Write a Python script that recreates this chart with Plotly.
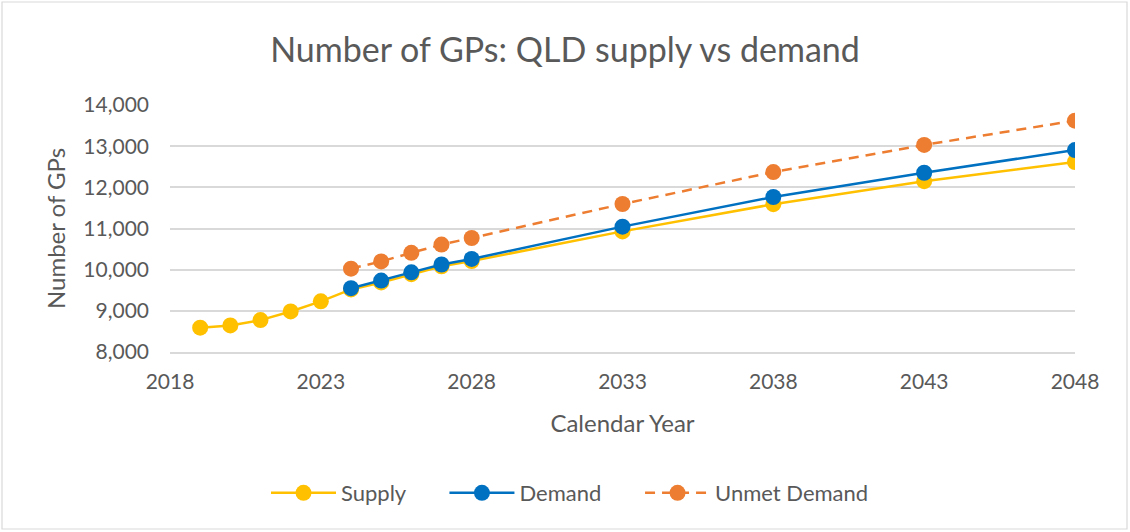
import plotly.graph_objects as go

supply_years = [2019, 2020, 2021, 2022, 2023, 2024, 2025, 2026, 2027, 2028, 2033, 2038, 2043, 2048]
supply = [8590, 8645, 8775, 8985, 9230, 9520, 9690, 9890, 10080, 10210, 10930, 11590, 12150, 12615]

demand_years = [2024, 2025, 2026, 2027, 2028, 2033, 2038, 2043, 2048]
demand = [9550, 9735, 9935, 10125, 10260, 11045, 11765, 12355, 12905]

unmet_years = [2024, 2025, 2026, 2027, 2028, 2033, 2038, 2043, 2048]
unmet = [10025, 10200, 10410, 10610, 10770, 11595, 12370, 13030, 13620]

x_ticks = [2018, 2023, 2028, 2033, 2038, 2043, 2048]
y_ticks = [8000, 9000, 10000, 11000, 12000, 13000, 14000]

FONT = "Lato"
TXT = "#595959"
PAD = "\u00a0" * 6

fig = go.Figure()
fig.add_trace(go.Scatter(x=supply_years, y=supply, name="Supply" + PAD, mode="lines+markers",
                         line=dict(color="#FFC000", width=2.5),
                         marker=dict(color="#FFC000", size=16)))
fig.add_trace(go.Scatter(x=demand_years, y=demand, name="Demand" + PAD, mode="lines+markers",
                         line=dict(color="#0070C0", width=2.5),
                         marker=dict(color="#0070C0", size=16)))
fig.add_trace(go.Scatter(x=unmet_years, y=unmet, name="Unmet Demand", mode="lines+markers",
                         line=dict(color="#ED7D31", width=2.5, dash="10px,7px"),
                         marker=dict(color="#ED7D31", size=16)))

L, R, T, B = 170, 55, 105, 180
W, H = 1130, 532
pw, ph = W - L - R, H - T - B

fig.update_layout(
    width=W, height=H,
    margin=dict(l=L, r=R, t=T, b=B),
    paper_bgcolor="white", plot_bgcolor="white",
    font=dict(family=FONT, color=TXT, size=21),
    title=dict(text="Number of GPs: QLD supply vs demand", x=0.5, xanchor="center",
               y=1 - 50 / H, yanchor="middle", font=dict(size=34, color=TXT, family=FONT)),
    xaxis=dict(range=[2018, 2048], tickvals=x_ticks, ticktext=[str(v) for v in x_ticks],
               showgrid=False, zeroline=False, showline=True, linecolor="#D9D9D9", linewidth=1.5,
               ticks="", tickfont=dict(size=21, color=TXT), ticklabelstandoff=10,
               title=dict(text="Calendar Year", font=dict(size=24, color=TXT), standoff=23)),
    yaxis=dict(range=[8000, 14000], tickvals=y_ticks, tickformat=",d",
               showgrid=True, gridcolor="#D9D9D9", gridwidth=1.5, zeroline=False,
               ticks="", tickfont=dict(size=21, color=TXT), ticklabelstandoff=20,
               title=dict(text="Number of GPs", font=dict(size=24, color=TXT), standoff=10)),
    legend=dict(orientation="h", x=(570 - L) / pw, xanchor="center", y=(ph - (493 - T)) / ph,
                yanchor="middle", font=dict(size=22, color=TXT), itemwidth=65),
    showlegend=True,
)

fig.add_shape(type="rect", xref="paper", yref="paper",
              x0=(2 - L) / pw, x1=(W - 3 - L) / pw,
              y0=(H - B - (H - 3)) / ph, y1=(H - B - 2) / ph,
              line=dict(color="#D9D9D9", width=1.2), fillcolor="rgba(0,0,0,0)", layer="below")

fig.write_html("out.html", config={"displayModeBar": False},
               post_script="document.body.style.margin='0';document.body.style.overflow='hidden';")
